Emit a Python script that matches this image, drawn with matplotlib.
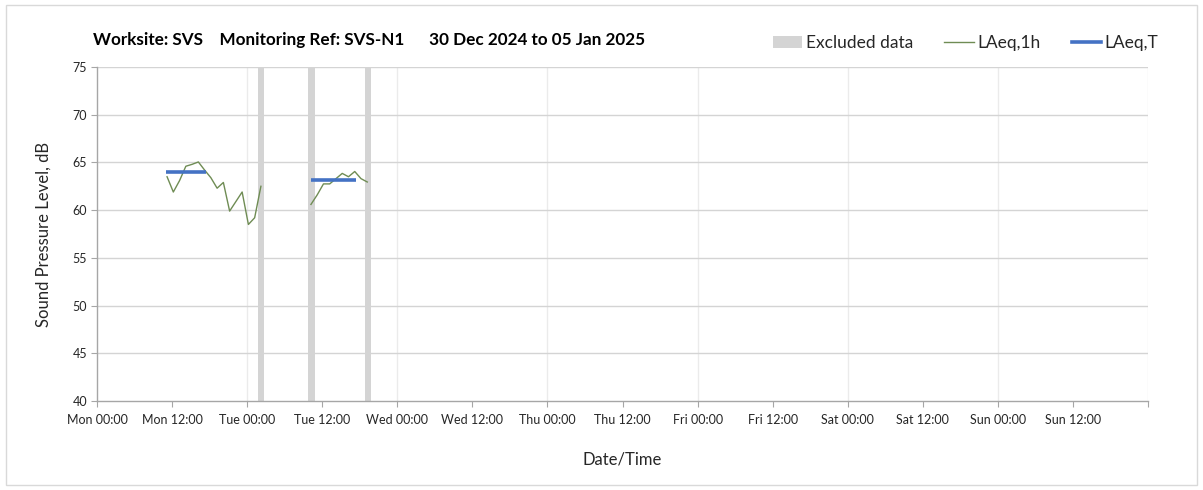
import matplotlib
matplotlib.use("Agg")
import matplotlib.pyplot as plt
from matplotlib.lines import Line2D
from matplotlib.patches import Patch, Rectangle

plt.rcParams['font.family'] = ['Lato', 'DejaVu Sans']

# ---- data (x in hours since Mon 30 Dec 2024 00:00) ----
tick_labels = ["Mon 00:00", "Mon 12:00", "Tue 00:00", "Tue 12:00", "Wed 00:00", "Wed 12:00",
               "Thu 00:00", "Thu 12:00", "Fri 00:00", "Fri 12:00", "Sat 00:00", "Sat 12:00",
               "Sun 00:00", "Sun 12:00"]

seg1_hours = [11.2, 12.2, 13.2, 14.2, 15.2, 16.2, 17.2, 18.2, 19.2, 20.2, 21.2, 22.2,
              23.2, 24.2, 25.2, 26.2]
seg1_laeq1h = [63.5, 61.9, 63.1, 64.6, 64.8, 65.05, 64.2, 63.4, 62.3, 62.9, 59.9, 60.9,
               61.9, 58.5, 59.2, 62.5]

seg2_hours = [34.2, 35.2, 36.2, 37.2, 38.2, 39.2, 40.2, 41.2, 42.2, 43.2]
seg2_laeq1h = [60.6, 61.6, 62.75, 62.75, 63.3, 63.85, 63.5, 64.05, 63.3, 62.95]

laeqT_start = [11.1, 34.2]
laeqT_end = [17.4, 41.4]
laeqT_value = [64.0, 63.2]

excluded_start = [25.75, 33.8, 42.85]
excluded_width = [1.0, 1.0, 1.0]

# ---- figure ----
fig = plt.figure(figsize=(12.03, 4.90), dpi=100)
fig.patches.append(Rectangle((0.005, 0.01), 0.99, 0.98, transform=fig.transFigure,
                             fill=False, edgecolor='#d9d9d9', linewidth=1.0))
ax = fig.add_axes([97/1203, 1 - 401/490, 1051/1203, 334/490])

ymin, ymax = 40, 75
# excluded bars
for s, w in zip(excluded_start, excluded_width):
    ax.bar(s, ymax - ymin, bottom=ymin, width=w, align='edge', color='#d4d4d4',
           linewidth=0, zorder=2)

green = '#6f8c54'
blue = '#4472c4'
ax.plot(seg1_hours, seg1_laeq1h, color=green, lw=1.0, zorder=4)
ax.plot(seg2_hours, seg2_laeq1h, color=green, lw=1.0, zorder=4)
for s, e, v in zip(laeqT_start, laeqT_end, laeqT_value):
    ax.plot([s, e], [v, v], color=blue, lw=2.6, zorder=5, solid_capstyle='butt')

ax.set_xlim(0, 168)
ax.set_ylim(ymin, ymax)
ax.set_xticks([12 * i for i in range(15)])
ax.set_xticklabels(tick_labels + [""])
ax.set_yticks(range(40, 76, 5))

for d in range(1, 8):
    ax.axvline(24 * d, color='#ebebeb', lw=1.0, zorder=1)
for yv in range(45, 76, 5):
    ax.axhline(yv, color='#d4d4d4', lw=1.0, zorder=1)

for sp in ['top', 'right']:
    ax.spines[sp].set_visible(False)
for sp in ['left', 'bottom']:
    ax.spines[sp].set_color('#a6a6a6')
    ax.spines[sp].set_linewidth(1.0)
ax.tick_params(axis='both', colors='#a6a6a6', labelcolor='#262626', labelsize=9, length=4)
ax.tick_params(axis='x', pad=5)
ax.tick_params(axis='y', pad=3)

ax.set_xlabel("Date/Time", fontsize=12, color='#262626', labelpad=19)
ax.set_ylabel("Sound Pressure Level, dB", fontsize=12, color='#262626', labelpad=15)

fig.text(93/1203, 1 - 40/490, "Worksite: SVS    Monitoring Ref: SVS-N1      30 Dec 2024 to 05 Jan 2025",
         fontsize=12.35, fontweight='bold', color='#000000', ha='left', va='center')

handles = [Patch(facecolor='#d4d4d4', edgecolor='none'),
           Line2D([], [], color=green, lw=1.0),
           Line2D([], [], color=blue, lw=2.6)]
fig.legend(handles, ["Excluded data", "LAeq,1h", "LAeq,T"], ncol=3, frameon=False,
           loc='center right', bbox_to_anchor=(1174/1203, 1 - 43/490), fontsize=12.5,
           handlelength=1.7, handletextpad=0.2, columnspacing=1.8, labelcolor='#262626')

fig.savefig("out.png", dpi=100, facecolor='white')
